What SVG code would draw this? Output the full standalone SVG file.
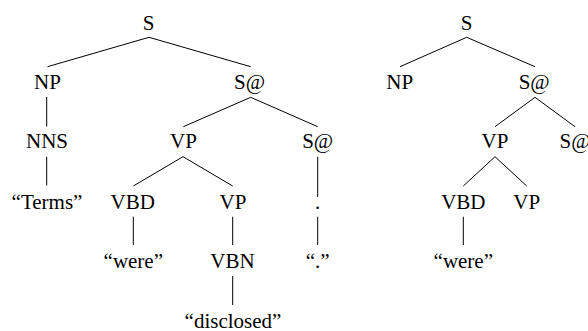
<svg xmlns="http://www.w3.org/2000/svg" width="588" height="331" viewBox="0 0 588 331">
<style>
.t text{font-size:21px;fill:#000;text-anchor:middle}
.e line{stroke:#000;stroke-width:1;fill:none}
</style>
<rect width="588" height="331" fill="#fff"/>
<g class="e" id="connectors">
<line x1="149" y1="37.3" x2="47.5" y2="66.7"/>
<line x1="149" y1="37.3" x2="250.7" y2="66.7"/>
<line x1="46.7" y1="97" x2="46.7" y2="126.5"/>
<line x1="250.7" y1="97.3" x2="183.3" y2="126.7"/>
<line x1="250.7" y1="97.3" x2="317.7" y2="126.7"/>
<line x1="46.7" y1="156.7" x2="46.7" y2="185.5"/>
<line x1="183" y1="156.7" x2="133.3" y2="186"/>
<line x1="183" y1="156.7" x2="232.7" y2="186"/>
<line x1="317.7" y1="156.7" x2="317.7" y2="197"/>
<line x1="133.3" y1="216.7" x2="133.3" y2="245"/>
<line x1="232.7" y1="216.7" x2="232.7" y2="245"/>
<line x1="317.7" y1="216.7" x2="317.7" y2="245"/>
<line x1="232.7" y1="276" x2="232.7" y2="305"/>
<line x1="466.7" y1="37.3" x2="400" y2="66.7"/>
<line x1="466.7" y1="37.3" x2="535" y2="66.7"/>
<line x1="535" y1="97.3" x2="495" y2="126.7"/>
<line x1="535" y1="97.3" x2="575" y2="126.7"/>
<line x1="495" y1="156.7" x2="463.3" y2="186"/>
<line x1="495" y1="156.7" x2="526.7" y2="186"/>
<line x1="463.3" y1="216.7" x2="463.3" y2="245"/>
</g>
<g class="t" font-family="'Liberation Serif', 'Times New Roman', serif">
<g id="L-S"><text x="148.5" y="30">S</text></g>
<g id="L-NP"><text x="47.5" y="89">NP</text></g>
<g id="L-S@1"><text x="249.5" y="89">S@</text></g>
<g id="L-NNS"><text x="47" y="148">NNS</text></g>
<g id="L-VP1"><text x="183.5" y="148">VP</text></g>
<g id="L-S@2"><text x="317.7" y="148">S@</text></g>
<g id="L-Terms"><text x="47" y="209">“Terms”</text></g>
<g id="L-VBD"><text x="132.7" y="209">VBD</text></g>
<g id="L-VP2"><text x="233" y="209">VP</text></g>
<g id="L-dot"><text x="317.7" y="209">.</text></g>
<g id="L-were"><text x="133.3" y="268">“were”</text></g>
<g id="L-VBN"><text x="232.5" y="268">VBN</text></g>
<g id="L-dotword"><text x="317.7" y="268">“.”</text></g>
<g id="L-disclosed"><text x="233" y="327.5">“disclosed”</text></g>
<g id="R-S"><text x="466.7" y="30">S</text></g>
<g id="R-NP"><text x="399.7" y="89">NP</text></g>
<g id="R-S@1"><text x="534.2" y="89">S@</text></g>
<g id="R-VP1"><text x="495" y="148">VP</text></g>
<g id="R-S@2"><text x="575" y="148">S@</text></g>
<g id="R-VBD"><text x="463.3" y="209">VBD</text></g>
<g id="R-VP2"><text x="526.7" y="209">VP</text></g>
<g id="R-were"><text x="463.3" y="268">“were”</text></g>
</g>
</svg>
